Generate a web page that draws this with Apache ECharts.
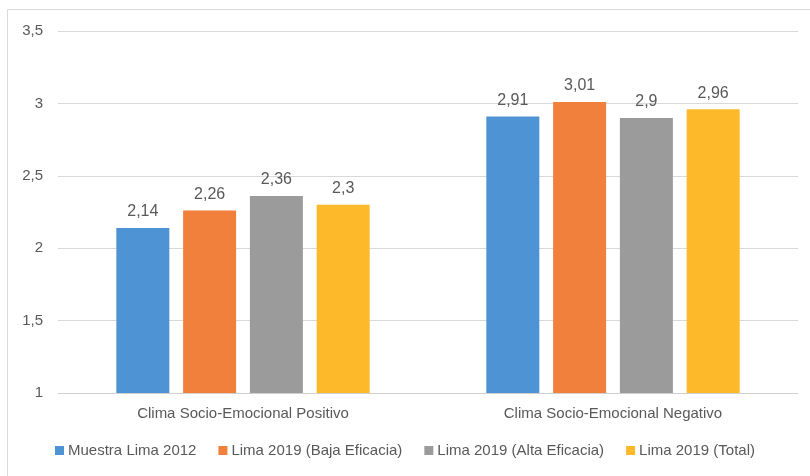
<!DOCTYPE html>
<html><head><meta charset="utf-8">
<script src="https://cdn.jsdelivr.net/npm/echarts@6/dist/echarts.min.js"></script>
<style>html,body{margin:0;padding:0;background:#fff}#c{width:810px;height:476px}</style>
</head><body><div id="c"></div>
<script>
const categories = ['Clima Socio-Emocional Positivo', 'Clima Socio-Emocional Negativo'];
const seriesNames = ['Muestra Lima 2012', 'Lima 2019 (Baja Eficacia)', 'Lima 2019 (Alta Eficacia)', 'Lima 2019 (Total)'];
const muestra2012 = [2.14, 2.91];
const bajaEficacia = [2.26, 3.01];
const altaEficacia = [2.36, 2.9];
const total2019 = [2.3, 2.96];
const colors = ['#4E94D4', '#F0803C', '#9B9B9B', '#FDB92A'];

const seriesData = [muestra2012, bajaEficacia, altaEficacia, total2019];
const fmt = v => String(v).replace('.', ',');
const font = 'Liberation Sans, Arial, sans-serif';

const chart = echarts.init(document.getElementById('c'));
chart.setOption({
  animation: false,
  textStyle: { fontFamily: font },
  graphic: [{
    type: 'rect', shape: { x: 7.5, y: 9.5, width: 830, height: 500 },
    style: { fill: 'none', stroke: '#D9D9D9', lineWidth: 1 }, silent: true, z: -1
  }],
  grid: { left: 58, right: 12, top: 31, bottom: 83 },
  legend: {
    bottom: 13, left: 'center', itemWidth: 9, itemHeight: 9, itemGap: 22,
    icon: 'rect',
    textStyle: { color: '#595959', fontSize: 15, fontFamily: font, padding: [0, 0, 0, -1] },
    data: seriesNames
  },
  xAxis: {
    type: 'category', data: categories,
    axisLine: { lineStyle: { color: '#D0D0D0', width: 1 } },
    axisTick: { show: false },
    axisLabel: { color: '#595959', fontSize: 15, margin: 13, fontFamily: font }
  },
  yAxis: {
    type: 'value', min: 1, max: 3.5, interval: 0.5,
    axisLine: { show: false }, axisTick: { show: false },
    splitLine: { lineStyle: { color: '#D9D9D9', width: 1 } },
    axisLabel: { color: '#595959', fontSize: 15, margin: 15, fontFamily: font, formatter: v => fmt(v) }
  },
  series: seriesData.map((d, i) => ({
    name: seriesNames[i], type: 'bar', data: d,
    barWidth: 53, barGap: '26%', barCategoryGap: '32%',
    itemStyle: { color: colors[i] },
    label: { show: true, position: 'top', distance: 8, color: '#595959', fontSize: 16, fontFamily: font, formatter: p => fmt(p.value) }
  }))
});
</script></body></html>
